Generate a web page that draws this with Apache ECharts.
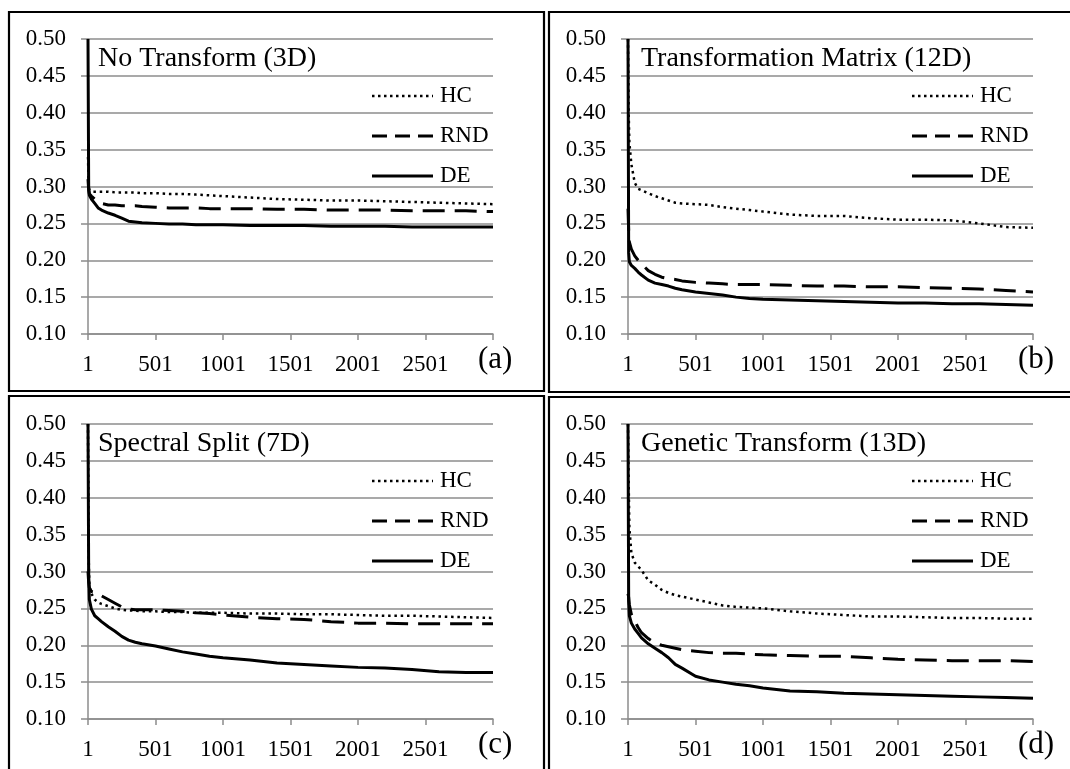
<!DOCTYPE html>
<html>
<head>
<meta charset="utf-8">
<script src="https://cdn.jsdelivr.net/npm/echarts@6/dist/echarts.min.js"></script>
<style>
html,body{margin:0;padding:0;background:#fff;}
#c{width:1070px;height:769px;}
</style>
</head>
<body>
<div id="c"></div>
<script>
// ---- data ----
const xs = [0,5,10,25,50,75,100,150,200,250,300,350,400,500,600,700,800,900,1000,1200,1400,1600,1800,2000,2200,2400,2600,2800,3000];
const xTicks = ['1','501','1001','1501','2001','2501'];
const panelTitles = ['No Transform (3D)','Transformation Matrix (12D)','Spectral Split (7D)','Genetic Transform (13D)'];
const panelTags = ['(a)','(b)','(c)','(d)'];
const seriesNames = ['HC','RND','DE'];

const aHC  = [0.34,0.30,0.295,0.293,0.293,0.293,0.293,0.293,0.292,0.292,0.292,0.292,0.291,0.291,0.290,0.290,0.289,0.288,0.287,0.285,0.283,0.282,0.281,0.281,0.280,0.279,0.278,0.277,0.276];
const aRND = [0.31,0.295,0.290,0.287,0.283,0.279,0.277,0.275,0.275,0.274,0.274,0.274,0.273,0.272,0.271,0.271,0.271,0.270,0.270,0.270,0.269,0.269,0.268,0.268,0.268,0.267,0.267,0.267,0.266];
const aDE  = [0.50,0.30,0.288,0.283,0.277,0.271,0.268,0.264,0.261,0.257,0.253,0.252,0.251,0.250,0.249,0.249,0.248,0.248,0.248,0.247,0.247,0.247,0.246,0.246,0.246,0.245,0.245,0.245,0.245];

const bHC  = [0.50,0.40,0.36,0.33,0.305,0.297,0.295,0.291,0.287,0.284,0.281,0.278,0.277,0.276,0.275,0.272,0.270,0.268,0.266,0.262,0.260,0.260,0.257,0.255,0.255,0.254,0.250,0.245,0.244];
const bRND = [0.27,0.24,0.225,0.215,0.206,0.200,0.195,0.186,0.181,0.177,0.175,0.174,0.172,0.170,0.169,0.168,0.167,0.167,0.167,0.166,0.165,0.165,0.164,0.164,0.163,0.162,0.161,0.159,0.157];
const bDE  = [0.50,0.21,0.198,0.193,0.189,0.184,0.180,0.173,0.169,0.167,0.165,0.162,0.160,0.157,0.155,0.153,0.150,0.148,0.147,0.146,0.145,0.144,0.143,0.142,0.142,0.141,0.141,0.140,0.139];

const cHC  = [0.50,0.32,0.28,0.27,0.262,0.258,0.256,0.253,0.250,0.248,0.247,0.247,0.246,0.246,0.245,0.245,0.244,0.244,0.244,0.243,0.243,0.242,0.242,0.241,0.240,0.240,0.239,0.238,0.237];
const cRND = [0.30,0.285,0.278,0.273,0.272,0.270,0.267,0.262,0.257,0.252,0.249,0.248,0.248,0.248,0.247,0.246,0.244,0.243,0.241,0.238,0.236,0.235,0.232,0.230,0.230,0.229,0.229,0.229,0.229];
const cDE  = [0.50,0.30,0.262,0.249,0.240,0.236,0.232,0.225,0.219,0.212,0.207,0.204,0.202,0.199,0.195,0.191,0.188,0.185,0.183,0.180,0.176,0.174,0.172,0.170,0.169,0.167,0.164,0.163,0.163];

const dHC  = [0.50,0.42,0.36,0.325,0.312,0.307,0.302,0.288,0.282,0.275,0.271,0.268,0.266,0.262,0.258,0.254,0.252,0.251,0.250,0.246,0.243,0.241,0.239,0.239,0.238,0.237,0.237,0.236,0.236];
const dRND = [0.27,0.265,0.255,0.242,0.233,0.224,0.217,0.209,0.203,0.200,0.198,0.196,0.194,0.192,0.190,0.189,0.189,0.188,0.187,0.186,0.185,0.185,0.183,0.181,0.180,0.179,0.179,0.179,0.178];
const dDE  = [0.50,0.26,0.240,0.230,0.222,0.216,0.210,0.202,0.196,0.190,0.183,0.174,0.169,0.158,0.153,0.150,0.147,0.145,0.142,0.138,0.137,0.135,0.134,0.133,0.132,0.131,0.130,0.129,0.128];

const panelData = [[aHC,aRND,aDE],[bHC,bRND,bDE],[cHC,cRND,cDE],[dHC,dRND,dDE]];

// ---- layout ----
const FONT = "'Liberation Serif','DejaVu Serif',serif";
const gridPos = [
  {left:88, top:39, width:405, height:295},
  {left:628, top:39, width:405, height:295},
  {left:88, top:424, width:405, height:295},
  {left:628, top:424, width:405, height:295}
];
const borders = [
  {x:9, y:12, w:535, h:379},
  {x:549, y:12, w:530, h:380},
  {x:9, y:396, w:535, h:400},
  {x:549, y:397, w:530, h:400}
];
const lineStyles = [
  {color:'#000', width:2.5, type:[2.5,3.8]},
  {color:'#000', width:3, type:[22,10]},
  {color:'#000', width:3, type:'solid'}
];
const legendDash = [[2.5,3.5],[15,8],null];
const gridColor = '#8c8c8c';

const grids = [], xAxes = [], yAxes = [], series = [], graphics = [];
for (let p = 0; p < 4; p++) {
  const g = gridPos[p];
  grids.push(Object.assign({containLabel:false}, g));
  xAxes.push({
    type:'value', gridIndex:p, min:0, max:3000, interval:500,
    axisLine:{show:true, onZero:false, lineStyle:{color:gridColor, width:1.5}},
    axisTick:{show:true, length:6, lineStyle:{color:gridColor, width:1.5}},
    splitLine:{show:false},
    axisLabel:{margin:19, color:'#000', fontFamily:FONT, fontSize:23,
      formatter:function(v){ const i = Math.round(v/500); return i < xTicks.length ? xTicks[i] : ''; }}
  });
  yAxes.push({
    type:'value', gridIndex:p, min:0.1, max:0.5, interval:0.05,
    axisLine:{show:true, onZero:false, lineStyle:{color:gridColor, width:1.5}},
    axisTick:{show:true, length:7, lineStyle:{color:gridColor, width:1.5}},
    splitLine:{show:true, lineStyle:{color:gridColor, width:1.5}},
    axisLabel:{margin:22, color:'#000', fontFamily:FONT, fontSize:23,
      formatter:function(v){ return v.toFixed(2); }}
  });
  for (let s = 0; s < 3; s++) {
    const ys = panelData[p][s];
    series.push({
      type:'line', name:seriesNames[s], xAxisIndex:p, yAxisIndex:p,
      data: xs.map((x,i)=>[x, ys[i]]),
      symbol:'none', showSymbol:false, smooth:false, animation:false,
      lineStyle: lineStyles[s], itemStyle:{color:'#000'}, z: 3 + s
    });
    // legend entry (key line + label)
    const ly = g.top + 57 + s * 40;
    const lx = g.left + g.width - 121;
    graphics.push({
      type:'line', shape:{x1:lx, y1:ly, x2:lx + 61, y2:ly},
      style:{stroke:'#000', lineWidth:lineStyles[s].width, lineDash:legendDash[s]}, z:10
    });
    graphics.push({
      type:'text', x: lx + 68, y: ly,
      style:{text: seriesNames[s], font:"23px " + FONT, fill:'#000', verticalAlign:'middle', textVerticalAlign:'middle'}, z:10
    });
  }
  graphics.push({
    type:'rect', shape:{x:borders[p].x, y:borders[p].y, width:borders[p].w, height:borders[p].h},
    style:{fill:'none', stroke:'#000', lineWidth:2.2}, z:0
  });
  graphics.push({
    type:'text', x: g.left + (p % 2 === 0 ? 10 : 13), y: g.top + 20,
    style:{text: panelTitles[p], font:"28px " + FONT, fill:'#000', textVerticalAlign:'middle', verticalAlign:'middle'}, z:10
  });
  graphics.push({
    type:'text', x: g.left + g.width - 15, y: g.top + g.height + 26,
    style:{text: panelTags[p], font:"31px " + FONT, fill:'#000', textVerticalAlign:'middle', verticalAlign:'middle'}, z:10
  });
}

const chart = echarts.init(document.getElementById('c'), null, {renderer:'canvas'});
chart.setOption({
  animation:false,
  backgroundColor:'#fff',
  grid: grids, xAxis: xAxes, yAxis: yAxes, series: series,
  graphic: graphics, tooltip:{show:false}
});
</script>
</body>
</html>
